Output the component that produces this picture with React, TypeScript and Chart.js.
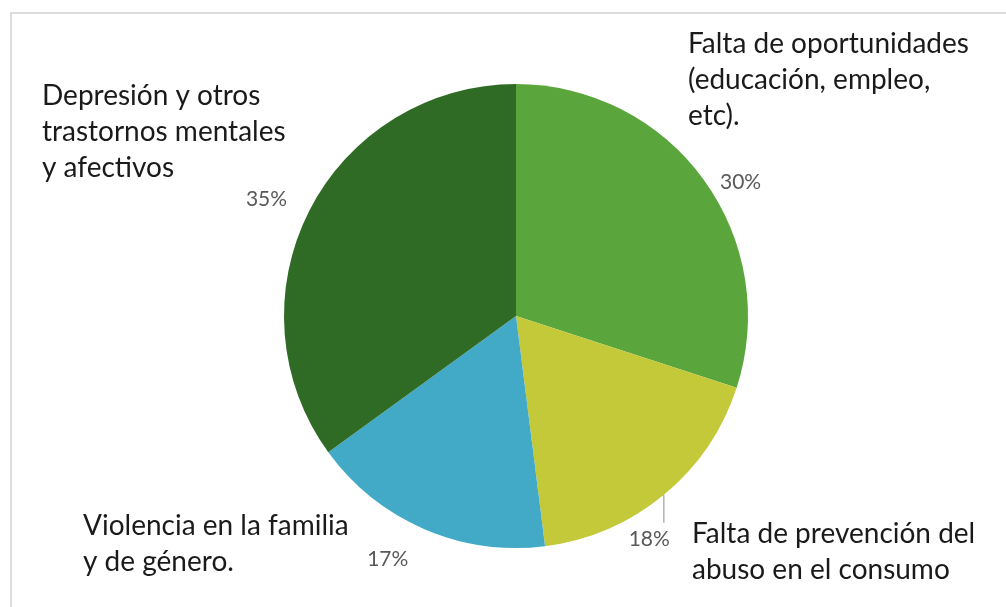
import React, { useEffect, useRef } from "react";
import { Chart, registerables } from "chart.js";

Chart.register(...registerables);

const categories = [
  "Falta de oportunidades (educación, empleo, etc).",
  "Falta de prevención del abuso en el consumo",
  "Violencia en la familia y de género.",
  "Depresión y otros trastornos mentales y afectivos",
];
const values = [30, 18, 17, 35];
const percentLabels = ["30%", "18%", "17%", "35%"];
const labelLines = [
  ["Falta de oportunidades", "(educación, empleo,", "etc)."],
  ["Falta de prevención del", "abuso en el consumo"],
  ["Violencia en la familia", "y de género."],
  ["Depresión y otros", "trastornos mentales", "y afectivos"],
];
const colors = ["#5ba63c", "#c4c93a", "#42a9c6", "#2f6b25"];

// text placement (layout only)
const labelAnchors = [
  { x: 688, y: 53 },
  { x: 692, y: 543 },
  { x: 83, y: 535 },
  { x: 42, y: 105 },
];
// percent label: extra distance beyond radius (px), angle tweak (deg)
const pctOffsets = [
  { d: 30, a: 5, leader: false },
  { d: 0, a: 0, leader: true },
  { d: 42, a: 4.5, leader: false },
  { d: 44, a: -1.7, leader: false },
];

const labelPlugin = {
  id: "customLabels",
  afterDraw(chart: any) {
    const ctx = chart.ctx;
    const meta = chart.getDatasetMeta(0);
    ctx.save();
    // frame
    ctx.strokeStyle = "#dcdcdc";
    ctx.lineWidth = 2;
    ctx.beginPath();
    ctx.moveTo(11, 607);
    ctx.lineTo(11, 13);
    ctx.lineTo(1006, 13);
    ctx.stroke();

    meta.data.forEach((arc: any, i: number) => {
      const mid = (arc.startAngle + arc.endAngle) / 2;
      const cx = arc.x;
      const cy = arc.y;
      const r = arc.outerRadius;
      ctx.font = "21px Lato";
      ctx.fillStyle = "#595959";
      ctx.textAlign = "center";
      ctx.textBaseline = "alphabetic";
      const o = pctOffsets[i];
      if (o.leader) {
        const ex = cx + Math.cos(mid) * r;
        const ey = cy + Math.sin(mid) * r;
        ctx.strokeStyle = "#8c8c8c";
        ctx.lineWidth = 1;
        ctx.beginPath();
        ctx.moveTo(ex, ey);
        ctx.lineTo(ex, ey + 28);
        ctx.stroke();
        ctx.textAlign = "right";
        ctx.fillText(percentLabels[i], ex + 6, ey + 51);
      } else {
        const a = mid + (o.a * Math.PI) / 180;
        const px = cx + Math.cos(a) * (r + o.d);
        const py = cy + Math.sin(a) * (r + o.d);
        ctx.fillText(percentLabels[i], px, py + 7.5);
      }
      // category labels
      ctx.font = "28px Lato";
      ctx.fillStyle = "#1a1a1a";
      ctx.textAlign = "left";
      const an = labelAnchors[i];
      labelLines[i].forEach((line, k) => {
        ctx.fillText(line, an.x, an.y + k * 36);
      });
    });
    ctx.restore();
  },
};

export default function App() {
  const ref = useRef<HTMLCanvasElement>(null);
  useEffect(() => {
    if (!ref.current) return;
    const chart = new Chart(ref.current, {
      type: "pie",
      data: {
        labels: categories,
        datasets: [
          {
            data: values,
            backgroundColor: colors,
            borderWidth: 0,
          },
        ],
      },
      options: {
        animation: false,
        responsive: false,
        layout: { padding: { left: 284, right: 258, top: 84, bottom: 59 } },
        plugins: { legend: { display: false }, tooltip: { enabled: false } },
      },
      plugins: [labelPlugin],
    });
    return () => chart.destroy();
  }, []);
  return (
    <div style={{ position: "absolute", left: 0, top: 0, width: 1006, height: 607, background: "#fff" }}>
      <canvas ref={ref} width={1006} height={607} />
    </div>
  );
}
